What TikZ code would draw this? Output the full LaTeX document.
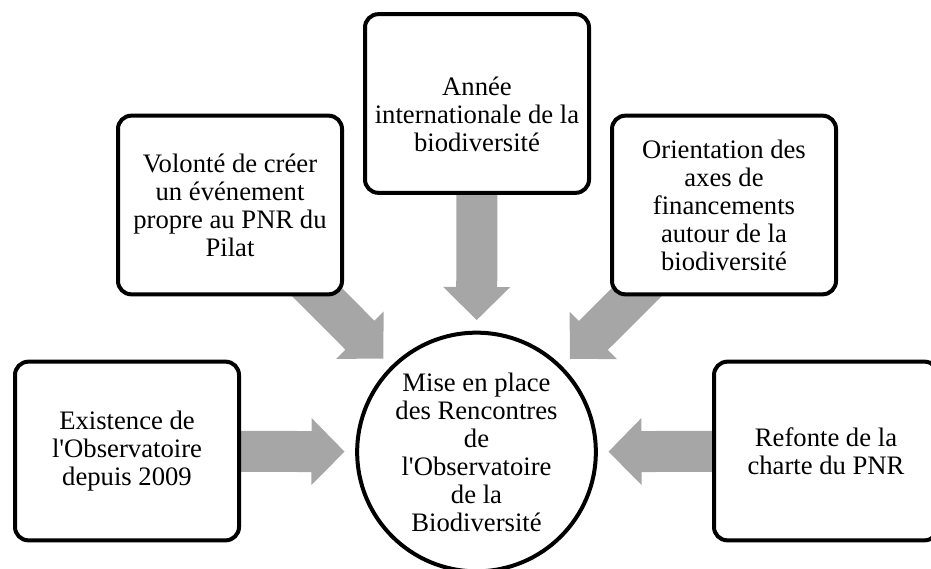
\documentclass[tikz,border=0pt]{standalone}
\usepackage{fontspec}
\setmainfont{Liberation Serif}[Ligatures=TeXOff]
\usetikzlibrary{calc,backgrounds}
\definecolor{arrowgray}{RGB}{166,166,166}
\newcommand\fatarrowfrom[2]{%
  \path let \p1=($(#1.center)-(#2.center)$), \n1={atan2(\y1,\x1)} in
    ($(#2.center)!99pt!(#1.center)$) pic[rotate=\n1]{fatarrow};}
\begin{document}
\begin{tikzpicture}[x=0.75pt,y=-0.75pt,
  txt/.style={font=\fontsize{20}{21}\selectfont, align=center},
  box/.style={txt, draw=black, line width=3pt, rounded corners=10pt, fill=white,
    minimum width=168pt, minimum height=134pt, inner sep=2pt},
  hub/.style={txt, circle, draw=black, line width=3pt, fill=white,
    minimum size=179pt, inner sep=0pt},
  fatarrow/.pic={\fill[arrowgray] (0,0) -- (33,33.5) -- (33,20.5) -- (150,20.5)
     -- (150,-20.5) -- (33,-20.5) -- (33,-33.5) -- cycle;}
]
\useasboundingbox (0,0) rectangle (931,568);

\node[hub] (hub) at (476.5,452) {Mise en place\\des Rencontres\\de\\l'Observatoire\\de la\\Biodiversité};

\node[box] (exist) at (127,451) {Existence de\\l'Observatoire\\depuis 2009};
\node[box] (vol) at (230,205) {Volonté de créer\\un événement\\propre au PNR du\\Pilat};
\node[box] (annee) at (477,103.5) {};
\node[txt] (anneetxt) at ([yshift=-8pt]annee.center) {Année\\internationale de la\\biodiversité};
\node[box] (orient) at (724,205) {Orientation des\\axes de\\financements\\autour de la\\biodiversité};
\node[box] (refonte) at (826,451) {Refonte de la\\charte du PNR};

\begin{pgfonlayer}{background}
\fatarrowfrom{exist}{hub}
\fatarrowfrom{vol}{hub}
\fatarrowfrom{annee}{hub}
\fatarrowfrom{orient}{hub}
\fatarrowfrom{refonte}{hub}
\end{pgfonlayer}
\end{tikzpicture}
\end{document}
